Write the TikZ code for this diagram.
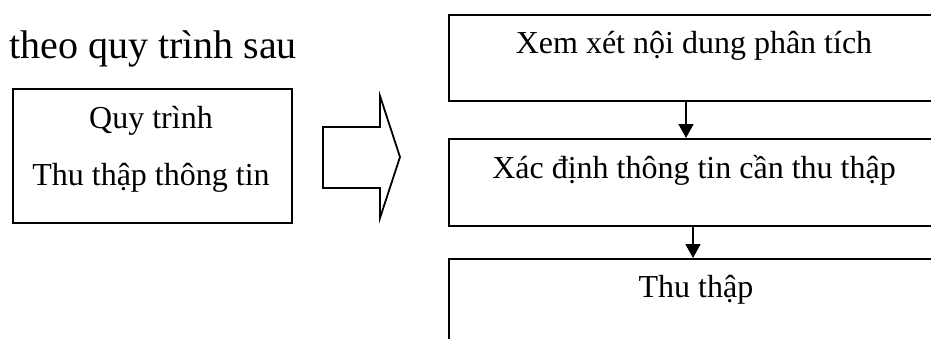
\documentclass[tikz,border=0pt]{standalone}
\usepackage{fontspec}
\setmainfont{Liberation Serif}
\usetikzlibrary{arrows.meta}

\tikzset{
  frame/.style={draw=black, line width=1.8pt, inner sep=0pt, anchor=north west},
  label32/.style={font=\fontsize{32}{38}\selectfont, inner sep=0pt, anchor=base},
  flow/.style={line width=1.6pt, -{Triangle[length=14pt,width=15pt]}},
  blockarrow/.style={draw=black, line width=1.8pt, line join=miter, fill=white}
}

\begin{document}
\begin{tikzpicture}[x=1pt,y=-1pt]
  \useasboundingbox (0,0) rectangle (931,338);
  \clip (0,0) rectangle (931,338);

  % heading
  \node[font=\fontsize{40}{48}\selectfont, inner sep=0pt, anchor=base west] (title) at (9,58) {theo quy trình sau};

  % left box
  \node[frame, minimum width=279pt, minimum height=134pt] (proc) at (12,88) {};
  \node[label32] (procA) at (151,128) {Quy trình};
  \node[label32] (procB) at (151,185) {Thu thập thông tin};

  % block arrow
  \draw[blockarrow] (323,127) -- (380,127) -- (380,96) -- (400,157) -- (380,218) -- (380,188) -- (323,188) -- cycle;

  % step boxes
  \node[frame, minimum width=492pt, minimum height=86pt] (s1) at (448,14) {};
  \node[frame, minimum width=492pt, minimum height=87pt] (s2) at (448,138) {};
  \node[frame, minimum width=492pt, minimum height=100pt] (s3) at (448,258) {};

  \node[label32] (t1) at (694,53) {Xem xét nội dung phân tích};
  \node[label32] (t2) at (694,178) {Xác định thông tin cần thu thập};
  \node[label32] (t3) at (696,297) {Thu thập};

  % connectors
  \coordinate (k1) at (686,0);
  \coordinate (k2) at (693,0);
  \draw[flow] (k1 |- s1.south) -- (k1 |- s2.north);
  \draw[flow] (k2 |- s2.south) -- (k2 |- s3.north);
\end{tikzpicture}
\end{document}
